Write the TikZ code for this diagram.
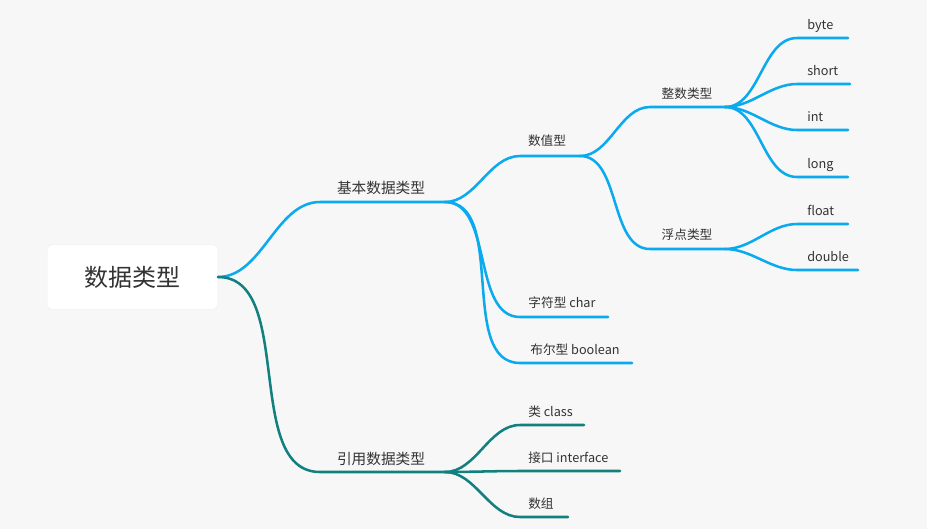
\documentclass[tikz,border=0pt]{standalone}
\usepackage{fontspec}
\setmainfont{Noto Sans CJK SC}
\definecolor{bg}{HTML}{F7F7F7}
\definecolor{bl}{HTML}{0AAAEF}
\definecolor{tl}{HTML}{12807F}
\definecolor{tx}{HTML}{333333}
\begin{document}
\begin{tikzpicture}[x=0.75pt,y=-0.75pt,
  lab/.style={font=\fontsize{9.5}{11}\selectfont,text=tx,inner sep=0pt},
  lab1/.style={font=\fontsize{11}{13}\selectfont,text=tx,inner sep=0pt},
  bw/.style={line width=1.9pt,bl,line cap=round},
  tw/.style={line width=1.9pt,tl,line cap=round},
  cv/.style={out=0,in=180,looseness=0.9}]
\fill[bg] (0,0) rectangle (927,529);
\useasboundingbox (0,0) rectangle (927,529);
\node[fill=white,rounded corners=4pt,minimum width=128pt,minimum height=49pt,draw=black!6,
  font=\fontsize{18}{20}\selectfont,text=tx] (root) at (132.5,277) {数据类型};
\coordinate (r) at (218,277);
% level1
\coordinate (a0) at (320,202); \coordinate (a1) at (445,202);
\coordinate (b0) at (320,472); \coordinate (b1) at (445,472);
\node[lab1] (ta) at (381,188) {基本数据类型};
\node[lab1] (tb) at (381,459) {引用数据类型};
\draw[bw] (r) to[cv] (a0) -- (a1);
\draw[tw] (r) to[cv] (b0) -- (b1);
% level2 blue
\coordinate (c0) at (520,156); \coordinate (c1) at (580,156);
\coordinate (d0) at (520,317); \coordinate (d1) at (608,317);
\coordinate (e0) at (520,363); \coordinate (e1) at (632,363);
\node[lab] at (547,141) {数值型};
\node[lab] at (562,303) {字符型 char};
\node[lab] at (575,350) {布尔型 boolean};
\draw[bw] (a1) to[cv] (c0) -- (c1);
\draw[bw] (a1) to[cv] (d0) -- (d1);
\draw[bw] (a1) to[cv] (e0) -- (e1);
% level3
\coordinate (f0) at (650,107); \coordinate (f1) at (725,107);
\coordinate (g0) at (650,249); \coordinate (g1) at (725,249);
\node[lab] at (687,94) {整数类型};
\node[lab] at (687,235) {浮点类型};
\draw[bw] (c1) to[cv] (f0) -- (f1);
\draw[bw] (c1) to[cv] (g0) -- (g1);
% level4
\foreach \y/\e/\t/\n in {38/848/byte/h1,84/850/short/h2,130/848/int/h3,177/848/long/h4}{
  \coordinate (\n a) at (797,\y); \coordinate (\n b) at (\e,\y);
  \node[lab,anchor=base west] at (807,\y-9) {\t};
  \draw[bw] (f1) to[cv] (\n a) -- (\n b);}
\foreach \y/\e/\t/\n in {224/848/float/k1,270/858/double/k2}{
  \coordinate (\n a) at (797,\y); \coordinate (\n b) at (\e,\y);
  \node[lab,anchor=base west] at (807,\y-9) {\t};
  \draw[bw] (g1) to[cv] (\n a) -- (\n b);}
% teal children
\foreach \y/\e/\t/\n in {425/584/类 class/m1,471/620/接口 interface/m2,517/568/数组/m3}{
  \coordinate (\n a) at (520,\y); \coordinate (\n b) at (\e,\y);
  \node[lab,anchor=base west] at (528,\y-9) {\t};
  \draw[tw] (b1) to[cv] (\n a) -- (\n b);}
\end{tikzpicture}
\end{document}
